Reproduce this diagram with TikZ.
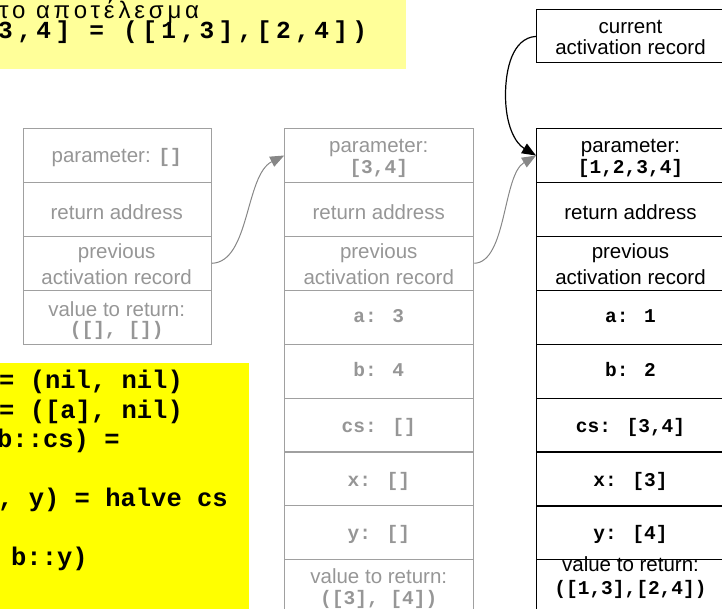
\documentclass[tikz,border=0pt]{standalone}
\usepackage{fontspec}
\setmainfont{Liberation Sans}
\newfontfamily\monob{Liberation Mono}
\newfontfamily\monotop{Liberation Mono}[LetterSpace=18]
\newfontfamily\greektop{Liberation Sans}[LetterSpace=16]
\usetikzlibrary{arrows.meta}
\definecolor{topyellow}{RGB}{255,255,153}
\definecolor{codeyellow}{RGB}{255,255,0}
\definecolor{cellgray}{RGB}{160,160,160}
\definecolor{labgray}{RGB}{150,150,150}
\definecolor{arrgray}{RGB}{135,135,135}
\tikzset{
  gcell/.style={draw=cellgray, line width=1.1pt, minimum width=189pt, minimum height=53.9pt, inner sep=0pt, anchor=north west},
  bcell/.style={gcell, draw=black, line width=1.2pt},
  glab/.style={text=labgray, font=\fontsize{20.5}{24}\selectfont, inner sep=0pt, anchor=base},
  blab/.style={glab, text=black},
  gval/.style={text=labgray, font=\monob\bfseries\fontsize{19.5}{22}\selectfont, inner sep=0pt, anchor=base},
  bval/.style={gval, text=black},
  codeline/.style={font=\monob\bfseries\fontsize{25.5}{29}\selectfont, inner sep=0pt, anchor=base west},
  garr/.style={draw=arrgray, line width=1pt, -{Triangle[length=14pt,width=11pt]}, arrgray},
  barr/.style={draw=black, line width=1.2pt, -{Triangle[length=14pt,width=11pt]}}
}
\newcommand{\vm}[1]{{\monob\bfseries\fontsize{19.5}{22}\selectfont #1}}
\begin{document}
\begin{tikzpicture}[x=1pt,y=-1pt]
\useasboundingbox (0,0) rectangle (722,609);
% top note
\fill[topyellow] (-5,-5) rectangle (406,69.3);
\node[inner sep=0pt, anchor=base west, text depth=1pt, font=\greektop\fontsize{24}{28}\selectfont] (note1) at (-1,18.3) {το αποτέλεσμα};
\node[inner sep=0pt, anchor=base west, text height=15pt, font=\monotop\bfseries\fontsize{24.5}{28}\selectfont] (note2) at (-2,38.3) {3,4] = ([1,3],[2,4])};
% code box
\fill[codeyellow] (-5,362.7) rectangle (249.3,615);
\node[codeline] (c1) at (-1,388.5) {= (nil, nil)};
\node[codeline] (c2) at (-1,418) {= ([a], nil)};
\node[codeline] (c3) at (-3,447.5) {b::cs) =};
\node[codeline] (c5) at (-2,506.5) {, y) = halve cs};
\node[codeline] (c7) at (11,565.5) {b::y)};
% left column
\foreach \k in {0,...,3}{
  \node[gcell, minimum width=188pt] (l\k) at (22.7,128+53.9*\k) {};
}
\node[glab] (tl0) at (116.7,163) {parameter: \vm{[]}};
\node[glab] (tl1) at (116.7,219.5) {return address};
\node[glab] (tl2a) at (116.7,258.5) {previous};
\node[glab] (tl2b) at (116.7,284) {activation record};
\node[glab] (tl3a) at (116.7,316.5) {value to return:};
\node[gval] (tl3b) at (116.7,335.5) {([], [])};
% middle column
\foreach \k in {0,...,8}{
  \node[gcell] (m\k) at (284.2,128+53.9*\k) {};
}
\node[glab] (tm0a) at (378.75,152.9) {parameter:};
\node[gval] (tm0b) at (378.75,174) {[3,4]};
\node[glab] (tm1) at (378.75,219.5) {return address};
\node[glab] (tm2a) at (378.75,258.5) {previous};
\node[glab] (tm2b) at (378.75,284) {activation record};
\node[gval] (tm3) at (378.75,322.7) {a: 3};
\node[gval] (tm4) at (378.75,376.7) {b: 4};
\node[gval] (tm5) at (378.75,432) {cs: []};
\node[gval] (tm6) at (378.75,486) {x: []};
\node[gval] (tm7) at (378.75,539.5) {y: []};
\node[glab] (tm8a) at (378.75,583.3) {value to return:};
\node[gval] (tm8b) at (378.75,604.5) {([3], [4])};
% right column
\node[bcell, minimum height=53pt] (cur) at (536,9.3) {};
\node[blab] (tcura) at (630.5,33.3) {current};
\node[blab] (tcurb) at (630.5,55) {activation record};
\foreach \k in {0,...,8}{
  \node[bcell] (r\k) at (536,128+53.9*\k) {};
}
\node[blab] (tr0a) at (630.5,152.9) {parameter:};
\node[bval] (tr0b) at (630.5,174) {[1,2,3,4]};
\node[blab] (tr1) at (630.5,219.5) {return address};
\node[blab] (tr2a) at (630.5,258.5) {previous};
\node[blab] (tr2b) at (630.5,284) {activation record};
\node[bval] (tr3) at (630.5,322.7) {a: 1};
\node[bval] (tr4) at (630.5,376.7) {b: 2};
\node[bval] (tr5) at (630.5,432) {cs: [3,4]};
\node[bval] (tr6) at (630.5,486) {x: [3]};
\node[bval] (tr7) at (630.5,539.5) {y: [4]};
\node[blab] (tr8a) at (630.5,571.7) {value to return:};
\node[bval] (tr8b) at (630.5,594) {([1,3],[2,4])};
% connectors
\draw[garr] (l2.east) .. controls (250,262) and (245,175) .. (m0.west);
\draw[garr] (m2.east) .. controls (506.8,262) and (502.6,175) .. (r0.west);
\draw[barr] (cur.west) .. controls (512,38) and (505.5,70) .. (505.5,95) .. controls (505.5,125) and (515,143) .. (r0.west);
\end{tikzpicture}
\end{document}
